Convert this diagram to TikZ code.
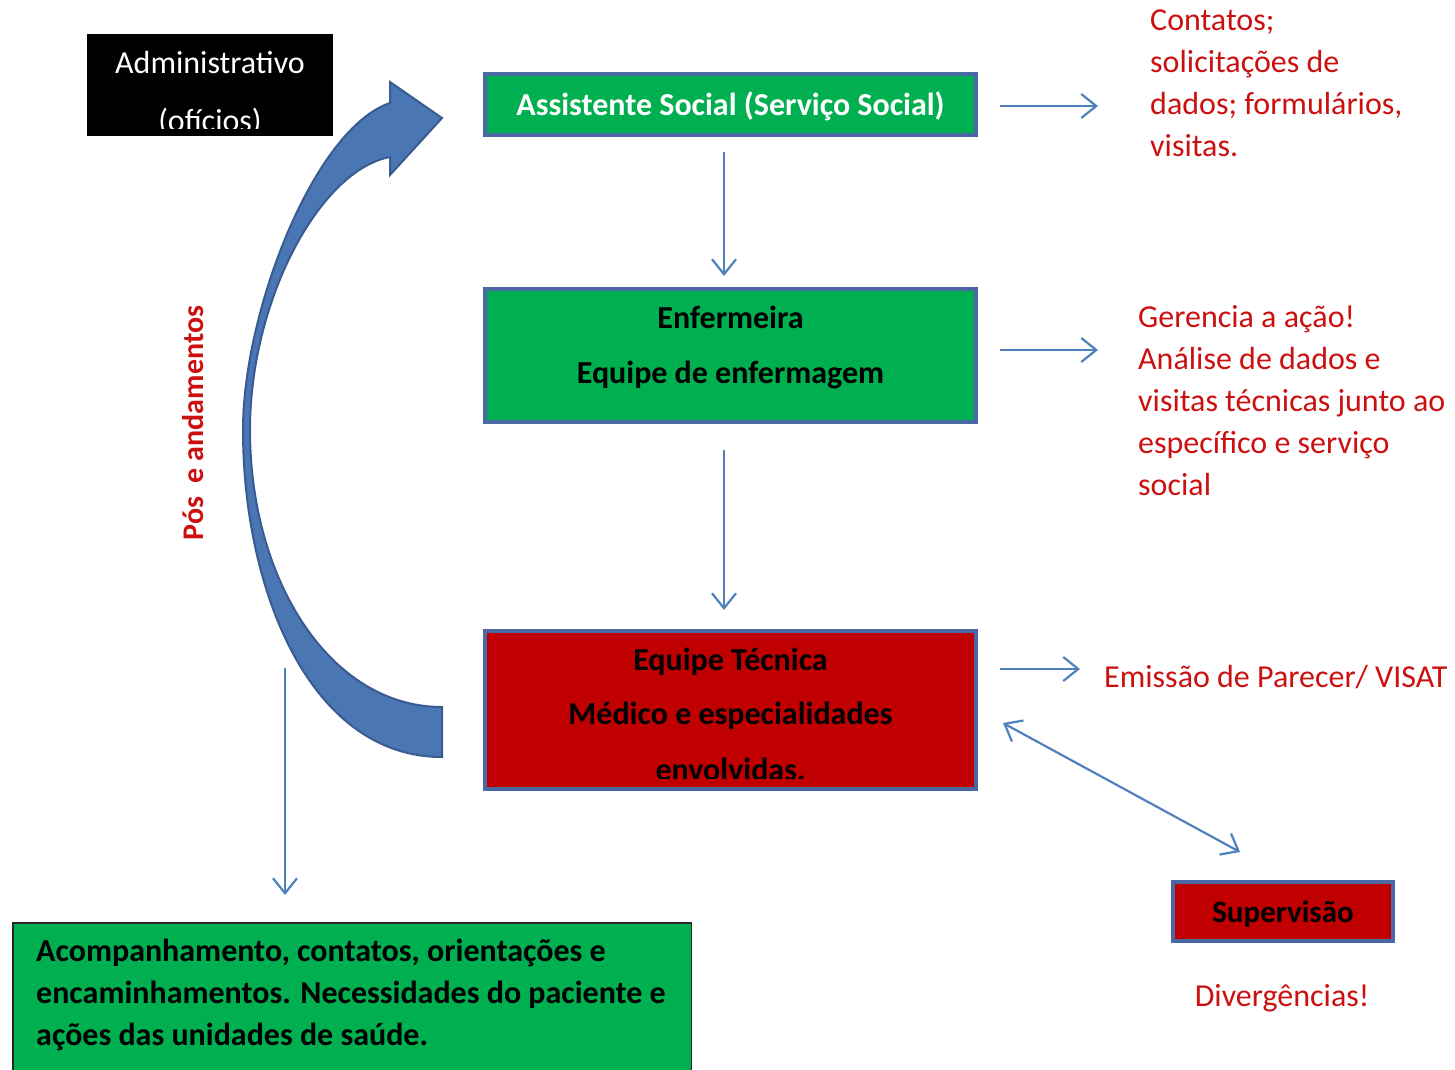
\documentclass[tikz,border=0pt]{standalone}
\usepackage{fontspec}
\setmainfont{Carlito}
\usetikzlibrary{arrows.meta}

\definecolor{boxgreen}{RGB}{0,176,80}
\definecolor{boxred}{RGB}{192,0,0}
\definecolor{frameblue}{RGB}{74,104,163}
\definecolor{linkblue}{RGB}{79,129,189}
\definecolor{noteRed}{RGB}{204,16,16}
\definecolor{bendfill}{RGB}{74,118,180}
\definecolor{bendline}{RGB}{56,92,145}

\tikzset{
  stagebox/.style={draw=frameblue, line width=4pt, inner sep=0pt},
  link/.style={draw=linkblue, line width=2.2pt, -{Straight Barb[length=15pt,width=24pt]}},
  twoway/.style={draw=linkblue, line width=2.2pt, {Straight Barb[length=15pt,width=24pt]}-{Straight Barb[length=15pt,width=24pt]}},
  note/.style={text=noteRed, font=\fontsize{32}{42}\selectfont, inner sep=0pt, align=left, anchor=base west},
  boxtext/.style={font=\fontsize{32}{54}\selectfont\bfseries, inner sep=0pt, anchor=base},
}

\begin{document}
\begin{tikzpicture}[x=1pt, y=-1pt]
\path[use as bounding box] (0,0) rectangle (1455,1069);

% curved return arrow
\fill[bendfill, draw=bendline, line width=2pt]
  (442,757) .. controls (310,757) and (243,590) .. (243,430)
  .. controls (243,310) and (315,128) .. (390,103)
  -- (390,82) -- (442,118) -- (390,175) -- (390,157)
  .. controls (320,170) and (250,300) .. (250,430)
  .. controls (250,580) and (330,707) .. (442,707) -- cycle;

% administrative box
\node[fill=black, minimum width=246pt, minimum height=102pt, inner sep=0pt] (admin) at (210,85) {};
\begin{scope}
  \clip (87,34) rectangle (333,128);
  \node[boxtext, font=\fontsize{32}{54}\selectfont, text=white] (admintxt) at (210,73) {Administrativo};
  \node[boxtext, font=\fontsize{32}{54}\selectfont, text=white] (admintxtb) at (210,131) {(ofícios)};
\end{scope}

% main stages
\node[stagebox, fill=boxgreen, minimum width=491pt, minimum height=61pt] (social) at (730.5,104.5) {};
\node[boxtext, text=white] (socialtxt) at (730.5,115) {Assistente Social (Serviço Social)};

\node[stagebox, fill=boxgreen, minimum width=491pt, minimum height=133pt] (nurse) at (730.5,355.5) {};
\node[boxtext] (nursetxt) at (730.5,328) {Enfermeira};
\node[boxtext] (nursetxtb) at (730.5,383) {Equipe de enfermagem};

\node[stagebox, fill=boxred, minimum width=491pt, minimum height=158pt] (tech) at (730.5,710) {};
\begin{scope}
  \clip (487,633) rectangle (974,778);
  \node[boxtext] (techtxt) at (730.5,670) {Equipe Técnica};
  \node[boxtext] (techtxtb) at (730.5,724) {Médico e especialidades};
  \node[boxtext] (techtxtc) at (730.5,780) {envolvidas.};
\end{scope}

\node[stagebox, fill=boxred, minimum width=220pt, minimum height=59pt] (superv) at (1283,911.5) {};
\node[boxtext, font=\fontsize{31}{54}\selectfont\bfseries] (supervtxt) at (1283,922) {Supervisão};

% follow-up box
\node[draw=black!85, line width=1.5pt, fill=boxgreen, minimum width=678.5pt, minimum height=157pt, inner sep=0pt] (follow) at (352,1001.5) {};
\node[font=\fontsize{32}{42}\selectfont\bfseries, inner sep=0pt, align=left, anchor=base west] (followtxt) at (36,1045)
  {Acompanhamento, contatos, orientações e\\encaminhamentos. Necessidades do paciente e\\ações das unidades de saúde.};

% notes (anchored at the baseline of their last line)
\node[note] (n1) at (1150,156) {Contatos;\\solicitações de\\dados; formulários,\\visitas.};
\node[note] (n2) at (1138,495) {Gerencia a ação!\\Análise de dados e\\visitas técnicas junto ao\\específico e serviço\\social};
\node[note] (n3) at (1104,687) {Emissão de Parecer/ VISAT};
\node[note, anchor=base] (n4) at (1282,1006) {Divergências!};
\node[text=noteRed, font=\fontsize{30}{36}\selectfont\bfseries, inner sep=0pt, rotate=90] (pos) at (193,423) {Pós\ \ e andamentos};

% connector end points
\coordinate (a1s) at (1000,106);  \coordinate (a1e) at (1098,106);
\coordinate (a2s) at (1000,350);  \coordinate (a2e) at (1098,350);
\coordinate (a3s) at (1000,669);  \coordinate (a3e) at (1080,669);
\coordinate (d1s) at (724,152);   \coordinate (d1e) at (724,276);
\coordinate (d2s) at (724,450);   \coordinate (d2e) at (724,610);
\coordinate (d3s) at (285,668);   \coordinate (d3e) at (285,895);
\coordinate (b1s) at (1003,723);  \coordinate (b1e) at (1240,852);

\draw[link] (a1s) -- (a1e);
\draw[link] (a2s) -- (a2e);
\draw[link] (a3s) -- (a3e);
\draw[link] (d1s) -- (d1e);
\draw[link] (d2s) -- (d2e);
\draw[link] (d3s) -- (d3e);
\draw[twoway] (b1s) -- (b1e);
\end{tikzpicture}
\end{document}
